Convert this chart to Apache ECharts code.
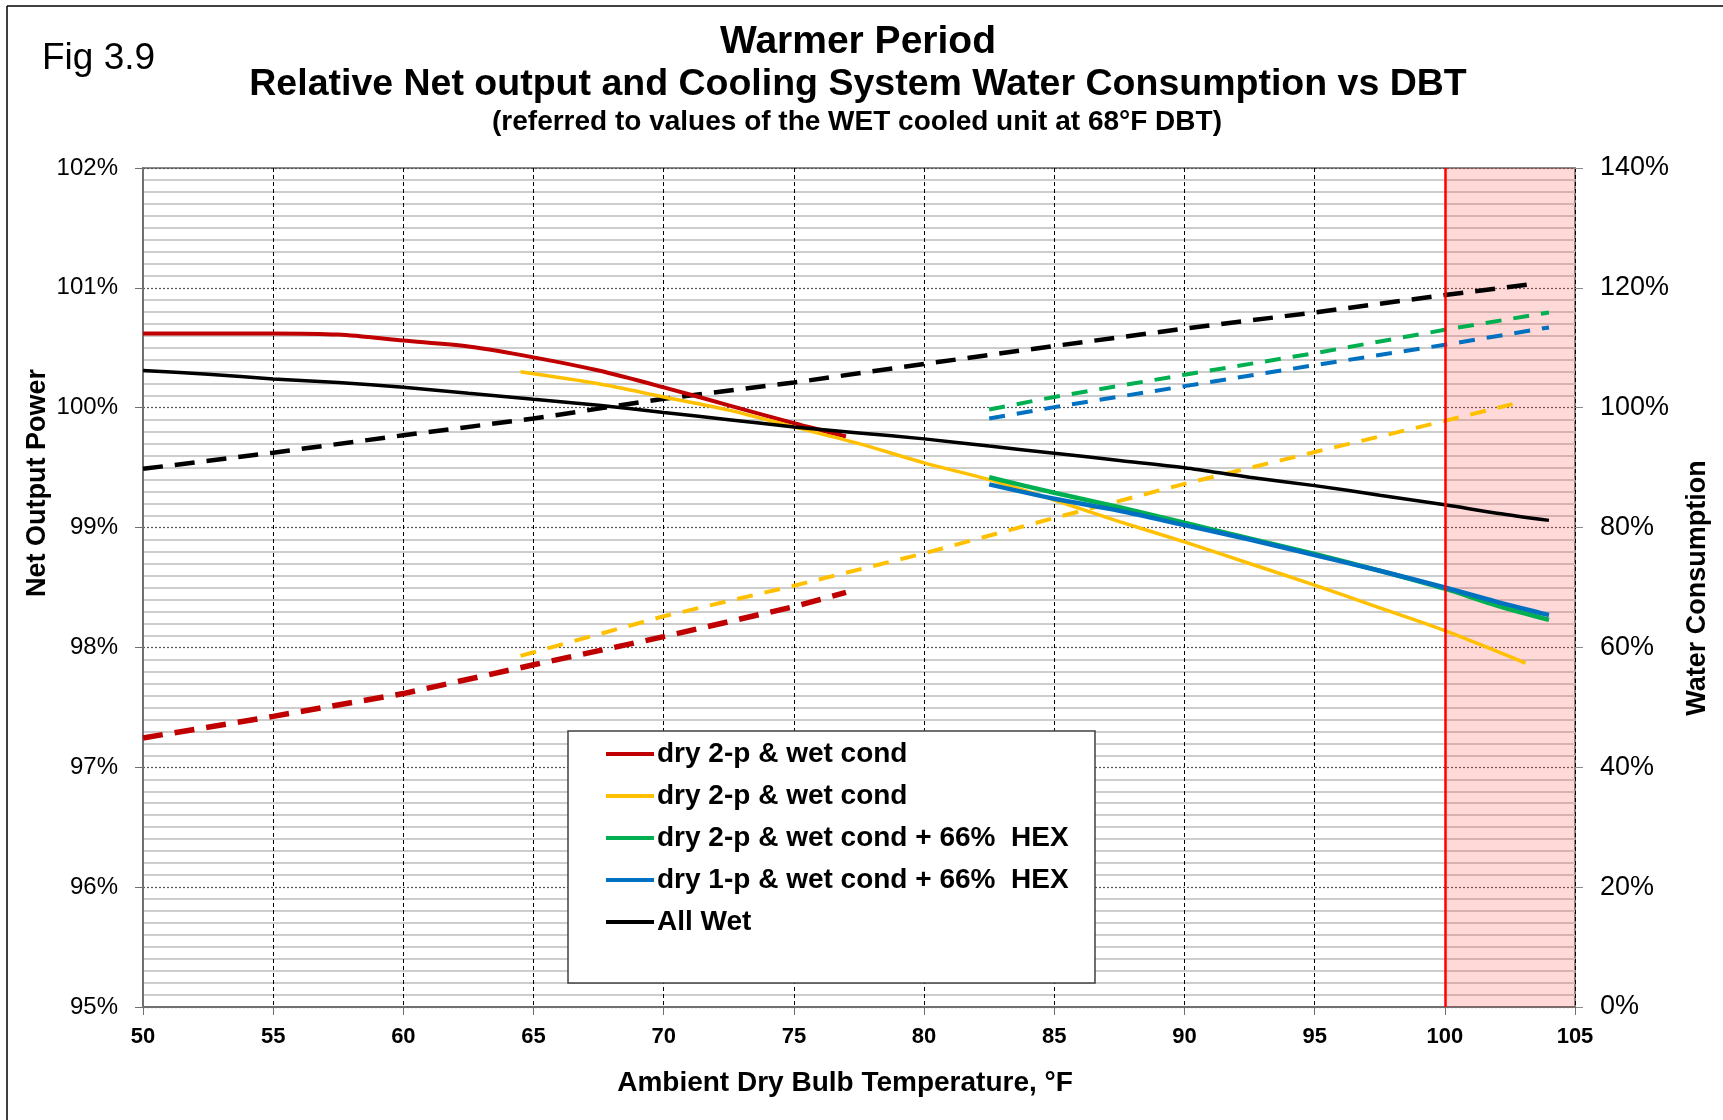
<!DOCTYPE html>
<html>
<head>
<meta charset="utf-8">
<title>Warmer Period - Net output and water consumption vs DBT</title>
<script src="https://cdn.jsdelivr.net/npm/echarts@6/dist/echarts.min.js"></script>
<style>
  html, body { margin: 0; padding: 0; background: #fff; }
  #chart { width: 1723px; height: 1120px; }
</style>
</head>
<body>
<div id="chart"></div>
<script>
// net output power, % (left axis) - [DBT °F, value]
const netDry2p = [[50, 100.62], [52.5, 100.62], [55, 100.62], [57.5, 100.61], [60, 100.56], [62.5, 100.51],
  [65, 100.42], [67.5, 100.31], [70, 100.17], [72.5, 100.02], [75, 99.87], [77, 99.76]];
const netDry2pB = [[64.5, 100.30], [67.5, 100.20], [70, 100.09], [72.5, 99.98], [75, 99.84], [77.5, 99.70],
  [80, 99.54], [82.5, 99.40], [85, 99.23], [87.5, 99.05], [90, 98.88], [92.5, 98.70], [95, 98.52],
  [97.5, 98.33], [100, 98.14], [103.1, 97.87]];
const netDry2pHex = [[82.5, 99.42], [85, 99.29], [87.5, 99.17], [90, 99.04], [92.5, 98.91], [95, 98.78],
  [97.5, 98.64], [100, 98.49], [102, 98.35], [104, 98.23]];
const netDry1pHex = [[82.5, 99.36], [85, 99.24], [87.5, 99.14], [90, 99.02], [92.5, 98.90], [95, 98.77],
  [97.5, 98.64], [100, 98.50], [102, 98.38], [104, 98.27]];
const netAllWet = [[50, 100.31], [52.5, 100.28], [55, 100.24], [57.5, 100.21], [60, 100.17], [62.5, 100.12],
  [65, 100.07], [67.5, 100.02], [70, 99.96], [72.5, 99.90], [75, 99.84], [77.5, 99.79], [80, 99.74],
  [82.5, 99.68], [85, 99.62], [87.5, 99.56], [90, 99.50], [92.5, 99.42], [95, 99.35], [97.5, 99.27],
  [100, 99.19], [102, 99.12], [104, 99.06]];

// water consumption, % (right axis)
const waterDry2p = [[50, 44.9], [55, 48.5], [60, 52.3], [65, 57.1], [70, 61.8], [75, 66.8], [77, 69.2]];
const waterDry2pB = [[64.5, 58.6], [65, 59.2], [70, 65.2], [75, 70.3], [80, 75.7], [85, 81.6], [90, 87.3],
  [95, 92.6], [100, 97.8], [102.6, 100.6]];
const waterDry2pHex = [[82.5, 99.7], [85, 101.8], [90, 105.5], [95, 109.1], [100, 113.0], [104, 115.9]];
const waterDry1pHex = [[82.5, 98.2], [85, 100.1], [90, 103.6], [95, 107.1], [100, 110.5], [104, 113.4]];
const waterAllWet = [[50, 89.8], [55, 92.5], [60, 95.4], [65, 98.2], [70, 101.5], [75, 104.2], [80, 107.3],
  [85, 110.3], [90, 113.2], [95, 115.9], [100, 118.8], [103.5, 120.7]];

const legendNames = ['dry 2-p & wet cond', 'dry 2-p & wet cond ', 'dry 2-p & wet cond + 66%  HEX',
  'dry 1-p & wet cond + 66%  HEX', 'All Wet'];
const colors = ['#C00000', '#FFC000', '#00B050', '#0070C0', '#000000'];
const limitDBT = 100;

const font = "'Liberation Sans', Arial, sans-serif";
const chart = echarts.init(document.getElementById('chart'));

function solid(name, data, color, width) {
  return {
    name, type: 'line', data, yAxisIndex: 0, symbol: 'none', smooth: 0.3, color,
    lineStyle: { color, width }, z: 4
  };
}
function dashed(name, data, color, width, dash) {
  return {
    name, type: 'line', data, yAxisIndex: 1, symbol: 'none', color,
    lineStyle: { color, width, type: dash }, z: 3
  };
}

const series = [
  dashed('water dry 2-p', waterDry2p, colors[0], 5.5, [20, 12]),
  dashed('water dry 2-p b', waterDry2pB, colors[1], 4, [16, 12]),
  dashed('water dry 2-p hex', waterDry2pHex, colors[2], 4, [16, 12]),
  dashed('water dry 1-p hex', waterDry1pHex, colors[3], 4, [16, 12]),
  dashed('water all wet', waterAllWet, colors[4], 4.5, [20, 12]),
  solid(legendNames[0], netDry2p, colors[0], 4),
  solid(legendNames[1], netDry2pB, colors[1], 3.5),
  solid(legendNames[2], netDry2pHex, colors[2], 4.5),
  solid(legendNames[3], netDry1pHex, colors[3], 4.5),
  solid(legendNames[4], netAllWet, colors[4], 3.5)
];
// hot zone above 100°F
series[9].markArea = {
  silent: true,
  itemStyle: { color: 'rgba(255, 60, 60, 0.2)' },
  data: [[{ xAxis: limitDBT }, { xAxis: 105 }]]
};
series[9].markLine = {
  silent: true, symbol: 'none', label: { show: false },
  lineStyle: { color: '#FF0000', width: 2.5, type: 'solid' },
  data: [{ xAxis: limitDBT }]
};

chart.setOption({
  backgroundColor: '#fff',
  animation: false,
  textStyle: { fontFamily: font },
  grid: { left: 143, right: 148, top: 168, bottom: 113, show: true, borderColor: '#8c8c8c', borderWidth: 2 },
  legend: {
    data: legendNames,
    orient: 'vertical',
    left: 606, top: 739,
    padding: 0,
    itemGap: 12,
    icon: 'rect',
    itemWidth: 48, itemHeight: 4,
    textStyle: { fontFamily: font, fontSize: 28, fontWeight: 'bold', color: '#000', lineHeight: 30, padding: [0, 0, 0, -2] },
    z: 10
  },
  xAxis: {
    type: 'value', min: 50, max: 105, interval: 5,
    axisLine: { lineStyle: { color: '#707070', width: 2 } },
    axisTick: { show: true, length: 8, lineStyle: { color: '#707070' } },
    axisLabel: { fontSize: 22, fontWeight: 'bold', color: '#000', margin: 19, fontFamily: font },
    splitLine: { show: true, lineStyle: { color: '#000', width: 1, type: [4, 3] } }
  },
  yAxis: [
    {
      type: 'value', min: 95, max: 102, interval: 1,
      axisLine: { show: true, lineStyle: { color: '#707070', width: 2 } },
      axisTick: { show: true, length: 8, lineStyle: { color: '#707070' } },
      axisLabel: { fontSize: 24, color: '#000', margin: 25, formatter: '{value}%', fontFamily: font },
      splitLine: { show: true, lineStyle: { color: '#555', width: 1.2, type: [2, 2] } },
      minorTick: { show: false, splitNumber: 10 },
      minorSplitLine: { show: true, lineStyle: { color: '#cdcdcd', width: 2 } }
    },
    {
      type: 'value', min: 0, max: 140, interval: 20,
      axisLine: { show: false },
      axisTick: { show: true, length: 8, lineStyle: { color: '#8c8c8c' } },
      axisLabel: { fontSize: 27, color: '#000', margin: 25, formatter: '{value}%', fontFamily: font },
      splitLine: { show: false }
    }
  ],
  series,
  graphic: [
    { type: 'line', shape: { x1: 7, y1: 6, x2: 1723, y2: 6 }, style: { stroke: '#000', lineWidth: 1.5 } },
    { type: 'line', shape: { x1: 7, y1: 6, x2: 7, y2: 1120 }, style: { stroke: '#000', lineWidth: 1.5 } },
    { type: 'rect', shape: { x: 568, y: 731, width: 527, height: 252 }, style: { fill: '#fff', stroke: '#404040', lineWidth: 1.5 }, z: 5 },
    { type: 'text', x: 42, y: 59, style: { text: 'Fig 3.9', font: '37px ' + font, fill: '#000', textVerticalAlign: 'middle' } },
    { type: 'text', x: 858, y: 42, style: { text: 'Warmer Period', font: 'bold 39px ' + font, fill: '#000', textAlign: 'center', textVerticalAlign: 'middle' } },
    { type: 'text', x: 858, y: 85, style: { text: 'Relative Net output and Cooling System Water Consumption vs DBT', font: 'bold 37.5px ' + font, fill: '#000', textAlign: 'center', textVerticalAlign: 'middle' } },
    { type: 'text', x: 857, y: 122, style: { text: '(referred to values of the WET cooled unit at 68°F DBT)', font: 'bold 28px ' + font, fill: '#000', textAlign: 'center', textVerticalAlign: 'middle' } },
    { type: 'text', x: 845, y: 1083, style: { text: 'Ambient Dry Bulb Temperature, °F', font: 'bold 28px ' + font, fill: '#000', textAlign: 'center', textVerticalAlign: 'middle' } },
    { type: 'text', x: 38, y: 483, rotation: Math.PI / 2, style: { text: 'Net Output Power', font: 'bold 27px ' + font, fill: '#000', textAlign: 'center', textVerticalAlign: 'middle' } },
    { type: 'text', x: 1698, y: 588, rotation: Math.PI / 2, style: { text: 'Water Consumption', font: 'bold 27px ' + font, fill: '#000', textAlign: 'center', textVerticalAlign: 'middle' } }
  ]
});
</script>
</body>
</html>
